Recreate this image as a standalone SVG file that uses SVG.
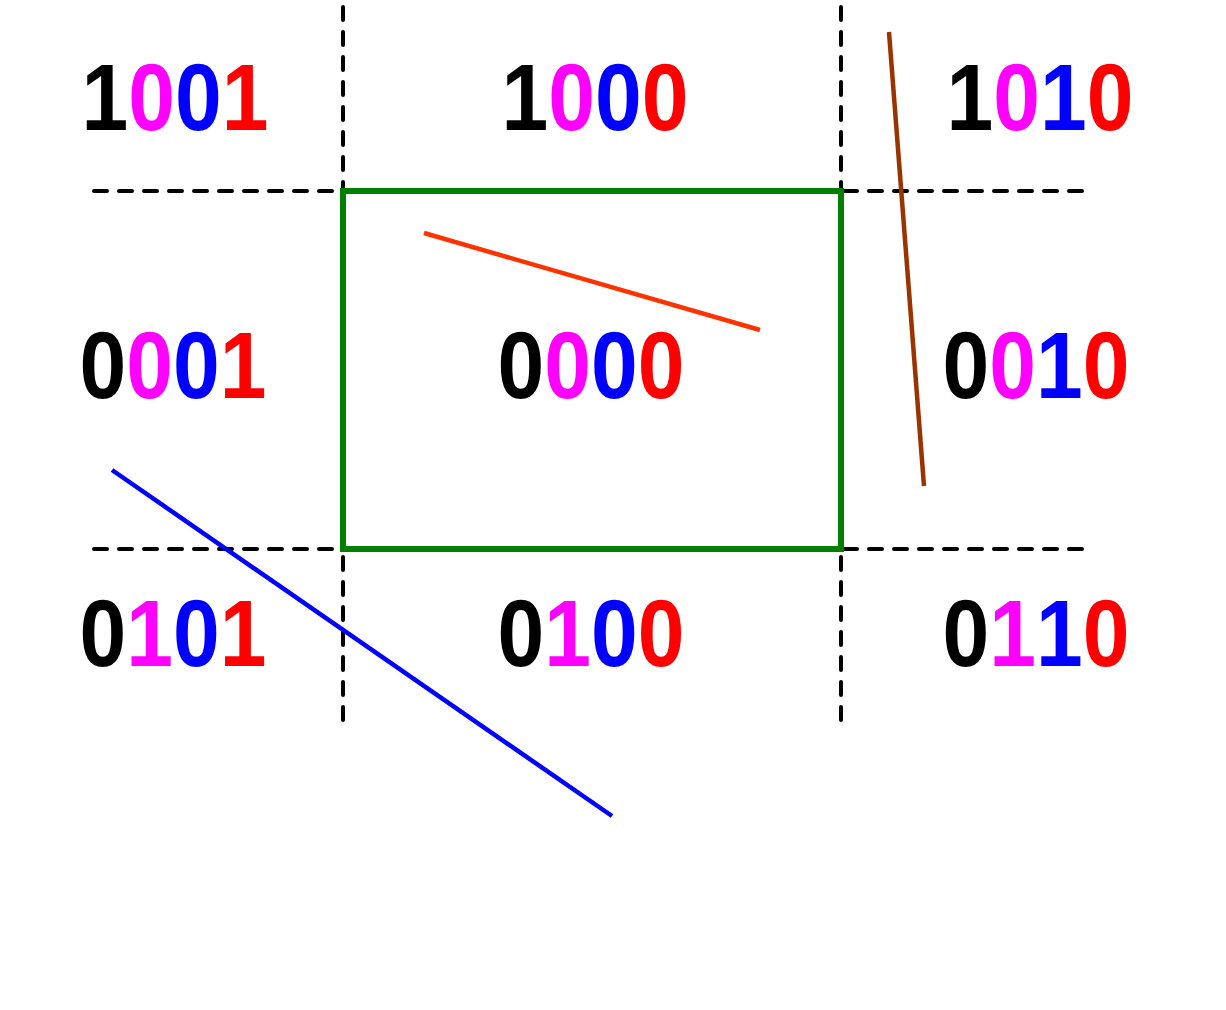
<svg xmlns="http://www.w3.org/2000/svg" width="1226" height="1010" viewBox="0 0 1226 1010">
<style>
.grid{stroke:#000;stroke-width:4;stroke-dasharray:13 12;stroke-linecap:round;fill:none}
.lbl{font-family:"Liberation Sans",Arial,sans-serif;font-weight:bold;font-size:84px;text-anchor:middle}
.k{fill:#000}.m{fill:#ff00ff}.b{fill:#0000ff}.r{fill:#ff0000}
</style>
<rect width="1226" height="1010" fill="#fff"/>
<g id="grid">
<line class="grid" x1="343" y1="7" x2="343" y2="728"/>
<line class="grid" x1="841" y1="7" x2="841" y2="732"/>
<line class="grid" x1="94" y1="191" x2="1088" y2="191"/>
<line class="grid" x1="94" y1="549" x2="1088" y2="549"/>
</g>
<g id="window"><rect x="343" y="191" width="498" height="358" fill="none" stroke="#008000" stroke-width="6"/></g>
<g id="connectors">
<line x1="424" y1="233" x2="760" y2="330" stroke="#ff3300" stroke-width="4.5"/>
<line x1="889" y1="32" x2="924" y2="486" stroke="#993300" stroke-width="4.5"/>
<line x1="112" y1="470" x2="612" y2="816" stroke="#0000ff" stroke-width="4.5"/>
</g>
<g id="c1001"><text class="lbl" transform="translate(175,130) scale(1,1.13)"><tspan class="k">1</tspan><tspan class="m">0</tspan><tspan class="b">0</tspan><tspan class="r">1</tspan></text></g>
<g id="c1000"><text class="lbl" transform="translate(595,130) scale(1,1.13)"><tspan class="k">1</tspan><tspan class="m">0</tspan><tspan class="b">0</tspan><tspan class="r">0</tspan></text></g>
<g id="c1010"><text class="lbl" transform="translate(1040,130) scale(1,1.13)"><tspan class="k">1</tspan><tspan class="m">0</tspan><tspan class="b">1</tspan><tspan class="r">0</tspan></text></g>
<g id="c0001"><text class="lbl" transform="translate(173,398) scale(1,1.13)"><tspan class="k">0</tspan><tspan class="m">0</tspan><tspan class="b">0</tspan><tspan class="r">1</tspan></text></g>
<g id="c0000"><text class="lbl" transform="translate(591,398) scale(1,1.13)"><tspan class="k">0</tspan><tspan class="m">0</tspan><tspan class="b">0</tspan><tspan class="r">0</tspan></text></g>
<g id="c0010"><text class="lbl" transform="translate(1036,398) scale(1,1.13)"><tspan class="k">0</tspan><tspan class="m">0</tspan><tspan class="b">1</tspan><tspan class="r">0</tspan></text></g>
<g id="c0101"><text class="lbl" transform="translate(173,666) scale(1,1.13)"><tspan class="k">0</tspan><tspan class="m">1</tspan><tspan class="b">0</tspan><tspan class="r">1</tspan></text></g>
<g id="c0100"><text class="lbl" transform="translate(591,666) scale(1,1.13)"><tspan class="k">0</tspan><tspan class="m">1</tspan><tspan class="b">0</tspan><tspan class="r">0</tspan></text></g>
<g id="c0110"><text class="lbl" transform="translate(1036,666) scale(1,1.13)"><tspan class="k">0</tspan><tspan class="m">1</tspan><tspan class="b">1</tspan><tspan class="r">0</tspan></text></g>
</svg>
